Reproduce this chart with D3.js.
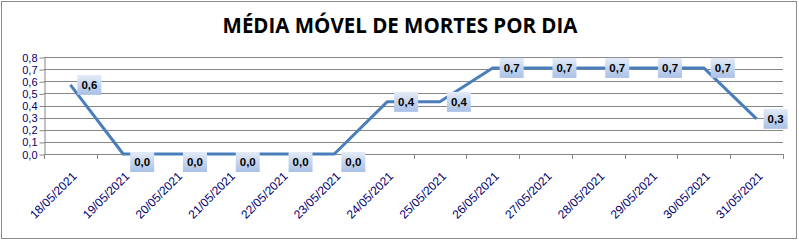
<!DOCTYPE html>
<html>
<head>
<meta charset="utf-8">
<script src="https://cdn.jsdelivr.net/npm/d3@7"></script>
<style>
  html, body { margin: 0; padding: 0; background: #fff; }
  svg { display: block; }
</style>
</head>
<body>
<div id="chart"></div>
<script>
// chart data
const dates = ["18/05/2021", "19/05/2021", "20/05/2021", "21/05/2021", "22/05/2021",
  "23/05/2021", "24/05/2021", "25/05/2021", "26/05/2021", "27/05/2021",
  "28/05/2021", "29/05/2021", "30/05/2021", "31/05/2021"];
const media = [0.57, 0, 0, 0, 0, 0, 0.43, 0.43, 0.71, 0.71, 0.71, 0.71, 0.71, 0.29];
const yTicks = [0, 0.1, 0.2, 0.3, 0.4, 0.5, 0.6, 0.7, 0.8];
const title = "MÉDIA MÓVEL DE MORTES POR DIA";

const W = 799, H = 241;
const fmt = v => d3.format(".1f")(v).replace(".", ",");

let svg = d3.select("#chart").append("svg")
  .attr("width", W)
  .attr("height", H);

let defs = svg.append("defs");
let grad = defs.append("linearGradient")
  .attr("id", "lblGrad")
  .attr("x1", 0).attr("y1", 0).attr("x2", 0).attr("y2", 1);
grad.append("stop").attr("offset", "0%").attr("stop-color", "#e3ebf7");
grad.append("stop").attr("offset", "100%").attr("stop-color", "#a9c0e6");

// outer frame
svg.append("rect")
  .attr("x", 1.5).attr("y", 1.5)
  .attr("width", 795).attr("height", 237)
  .attr("fill", "#fff")
  .attr("stroke", "#8c8c8c")
  .attr("stroke-width", 1);

svg.append("text")
  .attr("x", 400)
  .attr("y", 33)
  .attr("text-anchor", "middle")
  .style("font-family", "'Open Sans', sans-serif")
  .style("font-weight", "bold")
  .style("font-size", "20.5px")
  .attr("fill", "#000")
  .text(title);

let x = d3.scaleBand()
  .domain(dates)
  .range([44, 783]);

let y = d3.scaleLinear()
  .domain([0, 0.8])
  .range([154, 57]);

// gridlines
svg.append("g")
  .selectAll("line")
  .data(yTicks.slice(1))
  .join("line")
  .attr("x1", 44).attr("x2", 783)
  .attr("y1", d => Math.round(y(d)) + 0.5)
  .attr("y2", d => Math.round(y(d)) + 0.5)
  .attr("stroke", "#868686");

// y axis
let yAxis = svg.append("g")
  .attr("transform", "translate(44.5,0.5)")
  .call(d3.axisLeft(y).tickValues(yTicks).tickFormat(fmt).tickSize(5).tickSizeOuter(0));
yAxis.selectAll("path, line").attr("stroke", "#868686");
yAxis.selectAll("text")
  .attr("fill", "#00006e")
  .attr("x", -7)
  .style("font-family", "'Liberation Sans', Arial, sans-serif")
  .style("font-size", "11px");

// x axis line + ticks at category boundaries
let xg = svg.append("g");
xg.append("line")
  .attr("x1", 44).attr("x2", 783)
  .attr("y1", 154.5).attr("y2", 154.5)
  .attr("stroke", "#868686");
let bounds = dates.map(d => x(d)).concat([x.range()[1]]);
xg.selectAll("line.tick")
  .data(bounds)
  .join("line")
  .attr("class", "tick")
  .attr("x1", d => Math.round(d) + 0.5).attr("x2", d => Math.round(d) + 0.5)
  .attr("y1", 154).attr("y2", 159)
  .attr("stroke", "#868686");

xg.selectAll("text")
  .data(dates)
  .join("text")
  .attr("transform", d => "translate(" + (x(d) + x.bandwidth() / 2 + 4) + ",174) rotate(-45)")
  .attr("text-anchor", "end")
  .attr("dy", "0.35em")
  .attr("fill", "#00006e")
  .style("font-family", "'Liberation Sans', Arial, sans-serif")
  .style("font-size", "12px")
  .text(d => d);

// the line
let cx = (d, i) => x(dates[i]) + x.bandwidth() / 2;
let line = d3.line()
  .x((d, i) => cx(d, i))
  .y(d => y(d));

svg.append("path")
  .datum(media)
  .attr("d", line)
  .attr("fill", "none")
  .attr("stroke", "#4a7ebb")
  .attr("stroke-width", 3)
  .attr("stroke-linejoin", "round");

// data labels
let lbl = svg.append("g")
  .selectAll("g")
  .data(media)
  .join("g")
  .attr("transform", (d, i) => "translate(" + (cx(d, i) + 7) + "," + (y(d) + (d === 0 ? 8 : 0)) + ")");

lbl.append("rect")
  .attr("x", 0).attr("y", -10)
  .attr("width", 24).attr("height", 20)
  .attr("fill", "url(#lblGrad)");

lbl.append("text")
  .attr("x", 12)
  .attr("y", 0)
  .attr("dy", "0.35em")
  .attr("text-anchor", "middle")
  .style("font-family", "'Liberation Sans', Arial, sans-serif")
  .style("font-weight", "bold")
  .style("font-size", "11.5px")
  .attr("fill", "#000")
  .text(d => fmt(d));
</script>
</body>
</html>
